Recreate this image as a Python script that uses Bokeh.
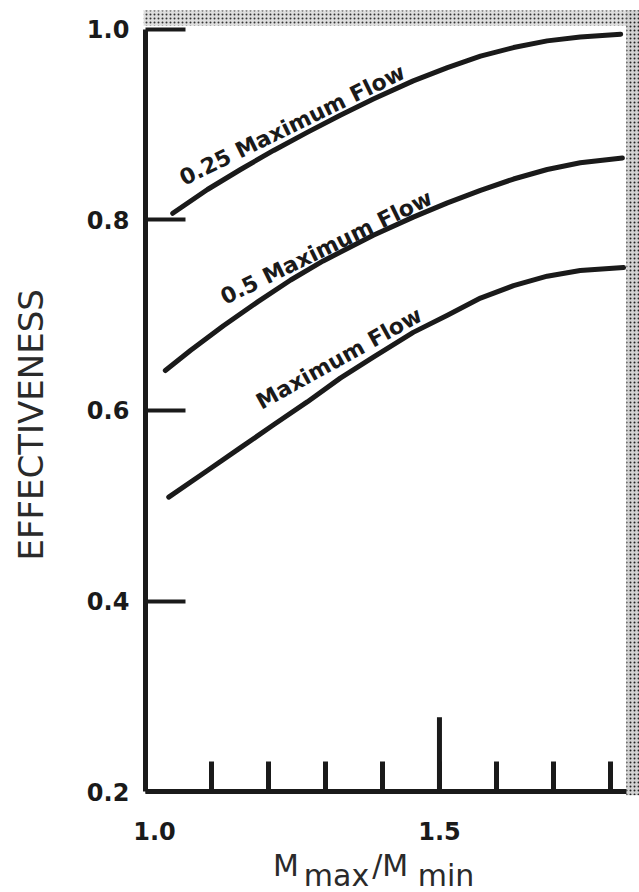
from bokeh.plotting import figure
from bokeh.models import FixedTicker, BoxAnnotation, PrintfTickFormatter
from bokeh.core.properties import value
from bokeh.embed import file_html
from bokeh.resources import INLINE

# ---- data ----
x_q25 = [1.032, 1.093, 1.151, 1.209, 1.268, 1.326, 1.384, 1.454, 1.514, 1.572, 1.630, 1.689, 1.747, 1.818]
y_q25 = [0.807, 0.832, 0.853, 0.873, 0.892, 0.910, 0.927, 0.946, 0.960, 0.972, 0.981, 0.988, 0.992, 0.995]

x_q50 = [1.019, 1.063, 1.121, 1.181, 1.239, 1.296, 1.384, 1.454, 1.514, 1.572, 1.630, 1.689, 1.747, 1.821]
y_q50 = [0.642, 0.663, 0.689, 0.714, 0.737, 0.757, 0.784, 0.803, 0.818, 0.831, 0.843, 0.853, 0.860, 0.865]

x_max = [1.025, 1.093, 1.151, 1.209, 1.268, 1.326, 1.384, 1.454, 1.514, 1.572, 1.630, 1.689, 1.747, 1.823]
y_max = [0.509, 0.537, 0.561, 0.585, 0.609, 0.634, 0.656, 0.682, 0.700, 0.718, 0.731, 0.741, 0.747, 0.750]

curve_labels = ["0.25 Maximum Flow", "0.5 Maximum Flow", "Maximum Flow"]
y_ticks = [0.2, 0.4, 0.6, 0.8, 1.0]
x_major_ticks = [1.0, 1.5]
x_minor_ticks = [1.1, 1.2, 1.3, 1.4, 1.5, 1.6, 1.7, 1.8]
y_title = "EFFECTIVENESS"
x_title_parts = ["M", "max", "/M", "min"]

FONT = "DejaVu Sans"
INK = "#1a1a1a"

# frame covers the whole canvas; axes are pinned with fixed_location
X0, X1 = 0.7298, 1.851
Y0, Y1 = 0.094, 1.0304
p = figure(width=639, height=892,
           x_range=(X0, X1), y_range=(Y0, Y1),
           output_backend="svg", toolbar_location=None,
           min_border=0, min_border_left=0, min_border_right=0,
           min_border_top=0, min_border_bottom=0)
p.outline_line_color = None
p.grid.visible = False
p.background_fill_color = "white"

AX_X = 0.984   # where the vertical axis sits
AX_Y = 0.2     # where the horizontal axis sits

# curves
for xs, ys in [(x_q25, y_q25), (x_q50, y_q50), (x_max, y_max)]:
    p.line(xs, ys, line_width=5, line_color=INK, line_cap="round", line_join="round")

# curve labels (placed along the curves)
lab_x = [1.056, 1.128, 1.192]
lab_y = [0.831, 0.706, 0.596]
lab_ang = [26, 26, 29]
for t, lx, ly, a in zip(curve_labels, lab_x, lab_y, lab_ang):
    p.text(x=[lx], y=[ly], text=[t], angle=a, angle_units="deg",
           text_font=value(FONT), text_font_style="bold", text_font_size="22px",
           text_color=INK, text_align="left", text_baseline="bottom")

# long tick at 1.5
p.segment(x0=[1.5], y0=[AX_Y], x1=[1.5], y1=[AX_Y + 0.078], line_width=5, line_color=INK)

# y axis
ya = p.yaxis[0]
ya.fixed_location = AX_X
ya.ticker = FixedTicker(ticks=y_ticks)
ya.formatter = PrintfTickFormatter(format="%.1f")
ya.major_tick_in = 40
ya.major_tick_out = 0
ya.major_tick_line_width = 4
ya.major_tick_line_color = INK
ya.minor_tick_line_color = None
ya.axis_line_width = 5
ya.axis_line_color = INK
ya.bounds = (AX_Y, 1.0)
ya.major_label_text_font = FONT
ya.major_label_text_font_style = "bold"
ya.major_label_text_font_size = "24px"
ya.major_label_text_color = INK
ya.major_label_standoff = 16

# x axis
xa = p.xaxis[0]
xa.fixed_location = AX_Y
xa.ticker = FixedTicker(ticks=x_major_ticks, minor_ticks=x_minor_ticks)
xa.formatter = PrintfTickFormatter(format="%.1f")
xa.major_tick_line_color = None
xa.minor_tick_in = 30
xa.minor_tick_out = 0
xa.minor_tick_line_width = 5
xa.minor_tick_line_color = INK
xa.axis_line_width = 5
xa.axis_line_color = INK
xa.bounds = (AX_X, X1)
xa.major_label_text_font = FONT
xa.major_label_text_font_style = "bold"
xa.major_label_text_font_size = "24px"
xa.major_label_text_color = INK
xa.major_label_standoff = 24

# y title
p.text(x=[0.784], y=[0.585], text=[y_title], angle=90, angle_units="deg",
       text_font=value(FONT), text_font_size="34px", text_color="#2a2a2a",
       text_align="center", text_baseline="middle")

# x title  M_max / M_min
p.text(x=[1.208, 1.262, 1.382, 1.462], y=[0.1225, 0.112, 0.1225, 0.112], text=x_title_parts,
       text_font=value(FONT), text_font_size="30px", text_color="#2a2a2a",
       text_align="left", text_baseline="middle")

# stippled border bands (top and right)
p.add_layout(BoxAnnotation(left=0.981, bottom=1.004, top=1.020, fill_color="#dedede", fill_alpha=1.0,
                           hatch_pattern="dot", hatch_color="#333333", hatch_scale=4,
                           hatch_weight=2, line_color=None))
p.add_layout(BoxAnnotation(left=1.828, bottom=0.196, top=1.020, fill_color="#d2d2d2", fill_alpha=1.0,
                           hatch_pattern="dot", hatch_color="#222222", hatch_scale=4,
                           hatch_weight=2.2, line_color=None))

open("out.html", "w").write(file_html(p, INLINE))
